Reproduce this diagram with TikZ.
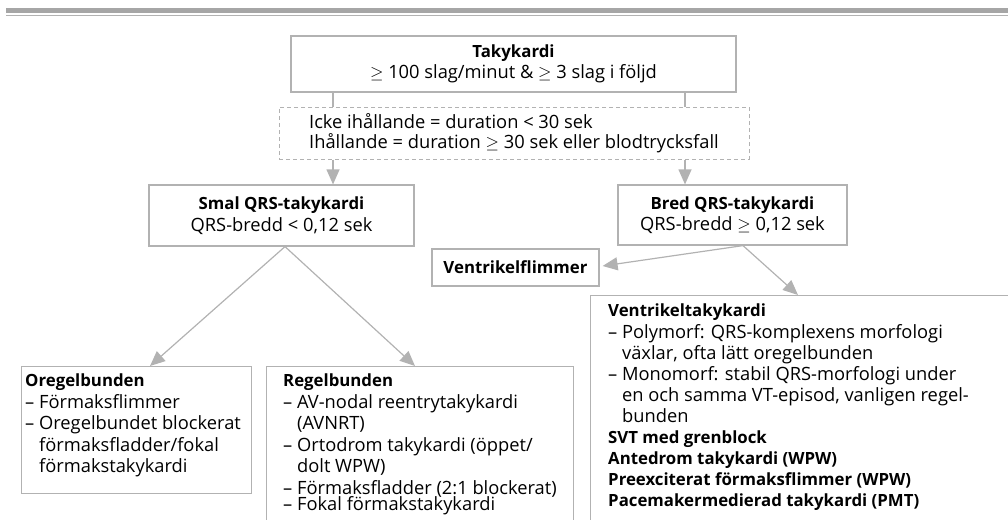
\documentclass[tikz,border=0pt]{standalone}
\usepackage{fontspec}
\setmainfont{Open Sans}
\usetikzlibrary{arrows.meta,calc}
\definecolor{linegray}{RGB}{178,178,178}
\definecolor{rulegray}{RGB}{166,166,166}
\newcommand{\boxfont}{\fontsize{18.3}{21.5}\selectfont}
\newcommand{\hd}[1]{{\fontsize{16.8}{21.5}\selectfont\bfseries #1}}

\begin{document}
\begin{tikzpicture}[x=1pt,y=-1pt,
  every node/.style={font=\boxfont,inner sep=0pt},
  box/.style={draw=linegray,line width=1.2pt},
  dbox/.style={draw=linegray,line width=1pt,dash pattern=on 4pt off 3pt},
  link/.style={draw=linegray,line width=1.2pt},
  arr/.style={link,-{Triangle[length=15pt,width=13pt]}},
  list/.style={align=left,anchor=north west}]
\useasboundingbox (0,0) rectangle (1008,519);
\clip (0,0) rectangle (1008,519);
\fill[rulegray] (6,8.5) rectangle (1008,12.7);
\draw[linegray,line width=1pt] (6,15.6) -- (1008,15.6);

\node[box,align=center,minimum width=445,minimum height=56] (tak) at (513.5,64)
  {\hd{Takykardi}\\$\geq$ 100 slag/minut \& $\geq$ 3 slag i följd};
\node[dbox,align=left,minimum width=470,minimum height=52,font=\fontsize{18.3}{20}\selectfont] (dash) at (514,133)
  {Icke ihållande = duration < 30 sek\\Ihållande = duration $\geq$ 30 sek eller blodtrycksfall};
\node[box,align=center,minimum width=265,minimum height=61] (smal) at (281.5,215.5)
  {\hd{Smal QRS-takykardi}\\QRS-bredd < 0,12 sek};
\node[box,align=center,minimum width=229,minimum height=60] (bred) at (732.5,215)
  {\hd{Bred QRS-takykardi}\\QRS-bredd $\geq$ 0,12 sek};
\node[box,minimum width=167,minimum height=37] (vflim) at (515.5,267.5) {\hd{Ventrikelflimmer}};

\node[box,anchor=north west,minimum width=230,minimum height=127] (oregel) at (21,366) {};
\node[list] (oregeltxt) at ($(oregel.north west)+(4,8)$)
  {\hd{Oregelbunden}\\
   – Förmaksflimmer\\
   – Oregelbundet blockerat\\
   \phantom{– }förmaksfladder/fokal\\
   \phantom{– }förmakstakykardi};

\node[box,anchor=north west,minimum width=307,minimum height=200] (regel) at (266,366) {};
\node[list] (regeltxt) at ($(regel.north west)+(17,8)$)
  {\hd{Regelbunden}\\
   – AV-nodal reentrytakykardi\\
   \phantom{– }(AVNRT)\\
   – Ortodrom takykardi (öppet/\\
   \phantom{– }dolt WPW)\\
   – Förmaksfladder (2:1 blockerat)\\[-5pt]
   – Fokal förmakstakykardi};

\node[box,anchor=north west,minimum width=450,minimum height=260] (vt) at (590,295) {};
\node[list,font=\fontsize{18.3}{21.1}\selectfont] (vttxt) at ($(vt.north west)+(18,9)$)
  {\hd{Ventrikeltakykardi}\\
   – Polymorf: QRS-komplexens morfologi\\
   \phantom{– }växlar, ofta lätt oregelbunden\\
   – Monomorf: stabil QRS-morfologi under\\
   \phantom{– }en och samma VT-episod, vanligen regel-\\
   \phantom{– }bunden\\
   \hd{SVT med grenblock}\\
   \hd{Antedrom takykardi (WPW)}\\
   \hd{Preexciterat förmaksflimmer (WPW)}\\
   \hd{Pacemakermedierad takykardi (PMT)}};

\coordinate (lx) at (333,0);
\coordinate (rx) at (685,0);
\draw[link] (tak.south -| lx) -- (dash.north -| lx);
\draw[link] (tak.south -| rx) -- (dash.north -| rx);
\draw[arr] (dash.south -| lx) -- (smal.north -| lx);
\draw[arr] (dash.south -| rx) -- (bred.north -| rx);
\draw[arr] ($(smal.south)+(3.5,0)$) -- ($(oregel.north west)+(129,0)$);
\draw[arr] ($(smal.south)+(3.5,0)$) -- ($(regel.north west)+(149,0)$);
\draw[arr] ($(bred.south)+(10.5,0)$) -- ($(vflim.east)+(3,-1.5)$);
\draw[arr] ($(bred.south)+(10.5,0)$) -- ($(vt.north west)+(208,0)$);
\end{tikzpicture}
\end{document}
